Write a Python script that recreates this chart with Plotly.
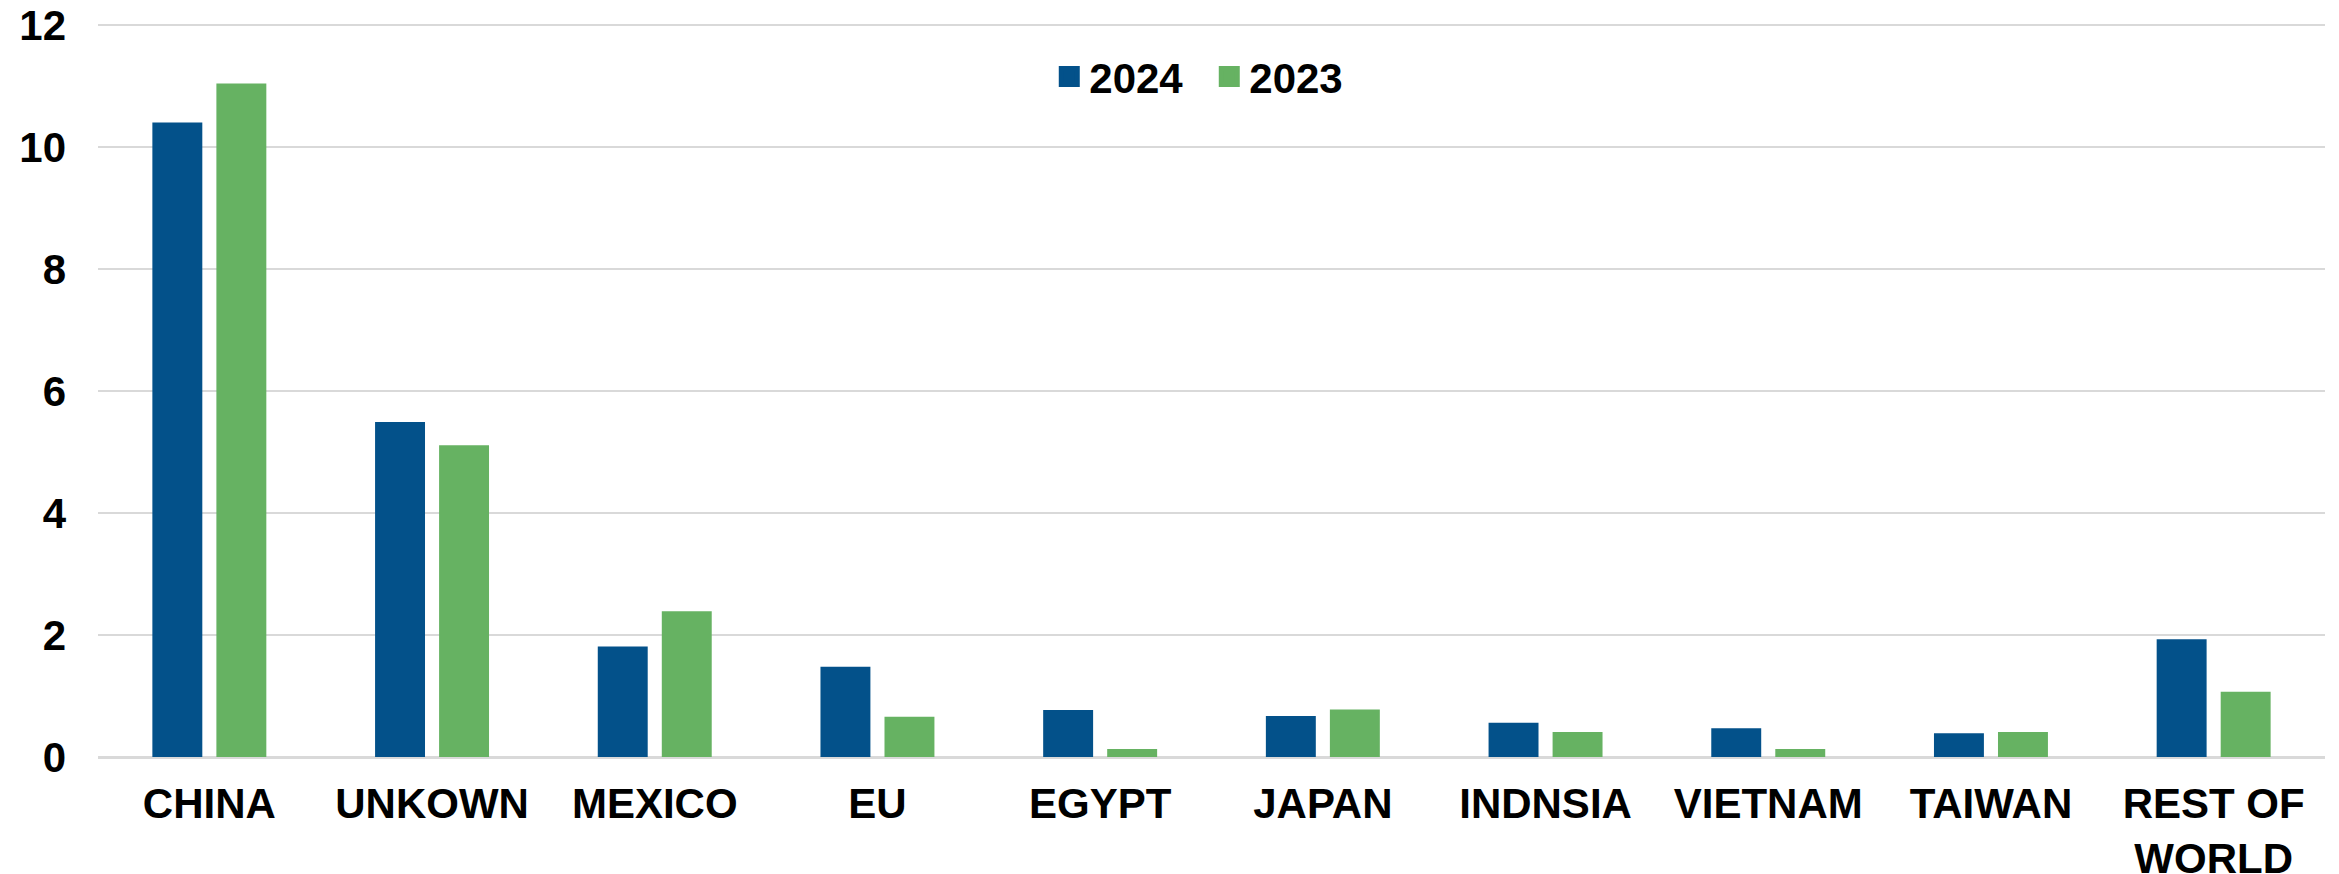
import plotly.graph_objects as go

# ── Data ────────────────────────────────────────────────────────────────────
categories = ["CHINA", "UNKOWN", "MEXICO", "EU", "EGYPT", "JAPAN",
              "INDNSIA", "VIETNAM", "TAIWAN", "REST OF<br>WORLD"]
values_2024 = [10.40, 5.49, 1.81, 1.48, 0.77, 0.67, 0.56, 0.47, 0.39, 1.93]
values_2023 = [11.04, 5.11, 2.39, 0.66, 0.13, 0.78, 0.41, 0.13, 0.41, 1.07]
y_ticks = [0, 2, 4, 6, 8, 10, 12]

BLUE = "#03518A"
GREEN = "#66B262"
GRID = "#D9D9D9"
FONT = dict(family="Liberation Sans, Arial, sans-serif", size=42,
            color="black", weight="bold")

fig = go.Figure()
fig.add_bar(x=categories, y=values_2024, name="2024",
            marker=dict(color=BLUE, line=dict(width=0)), showlegend=False)
fig.add_bar(x=categories, y=values_2023, name="2023",
            marker=dict(color=GREEN, line=dict(width=0)), showlegend=False)

# legend-only entries so the swatches are large squares
for name, color in [("2024", BLUE), ("2023", GREEN)]:
    fig.add_scatter(x=[None], y=[None], mode="markers", name=name,
                    marker=dict(symbol="square", size=16, color=color,
                                line=dict(width=5, color=color)))

# page body has an 8px margin, so the figure is sized to fit inside it
fig.update_layout(
    width=2331,
    height=866,
    margin=dict(t=15, b=117, l=90, r=14, autoexpand=False),
    paper_bgcolor="white",
    plot_bgcolor="white",
    font=FONT,
    barmode="group",
    bargap=0.425,
    bargroupgap=0.22,
    showlegend=True,
    legend=dict(orientation="h", x=0.499, xanchor="center", y=0.927,
                yanchor="middle", font=FONT, bgcolor="rgba(0,0,0,0)",
                entrywidth=115, entrywidthmode="pixels"),
    xaxis=dict(showgrid=False, showline=False, ticks="", automargin=False,
               tickfont=FONT, ticklabelstandoff=18),
    yaxis=dict(range=[0, 12.03], tickvals=y_ticks, showgrid=True,
               gridcolor=GRID, gridwidth=2, zeroline=True,
               zerolinecolor=GRID, zerolinewidth=3, showline=False,
               automargin=False, ticks="", tickfont=FONT,
               ticklabelstandoff=31, ticklabeloverflow="allow"),
)

fig.write_html("out.html")
